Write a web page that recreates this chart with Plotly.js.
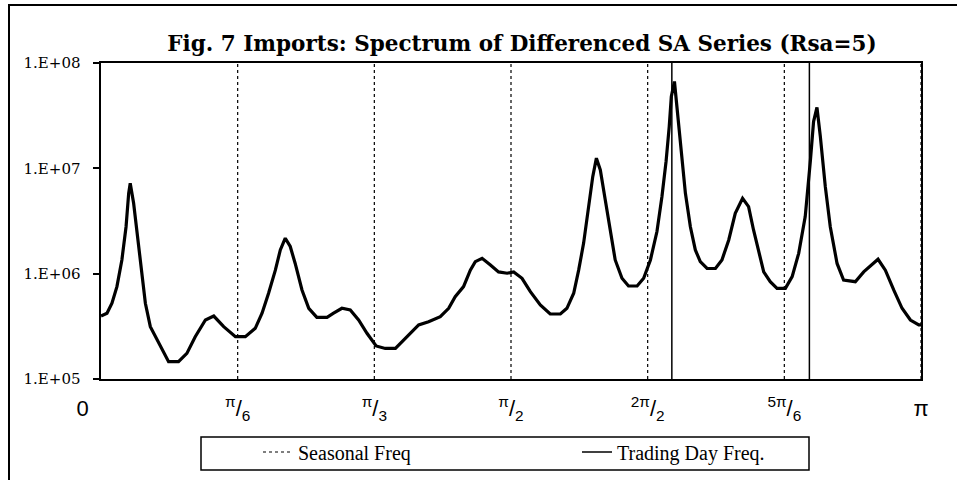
<!DOCTYPE html>
<html>
<head>
<meta charset="utf-8">
<script src="https://cdn.plot.ly/plotly-3.0.1.min.js"></script>
<style>
  html, body { margin: 0; padding: 0; background: #fff; }
  #wrap { position: relative; width: 957px; height: 480px; overflow: hidden; }
  #chart { position: absolute; left: 0; top: 0; width: 957px; height: 480px; }
  #frame { position: absolute; left: 8px; top: 4px; width: 970px; height: 490px;
           border-left: 2px solid #000; border-top: 2px solid #000; pointer-events: none; }
</style>
</head>
<body>
<div id="wrap">
  <div id="chart"></div>
  <div id="frame"></div>
</div>
<script>
// Frequency (radians) and spectrum values
const freq = [
  0.000, 0.023, 0.042, 0.061, 0.080, 0.096, 0.106, 0.112, 0.125, 0.138,
  0.151, 0.170, 0.189, 0.221, 0.259, 0.297, 0.329, 0.361, 0.400, 0.432,
  0.470, 0.515, 0.553, 0.591, 0.617, 0.642, 0.668, 0.687, 0.706, 0.725,
  0.744, 0.770, 0.796, 0.827, 0.866, 0.891, 0.923, 0.955, 0.987, 1.019,
  1.054, 1.089, 1.128, 1.166, 1.217, 1.255, 1.300, 1.332, 1.357, 1.389,
  1.415, 1.434, 1.460, 1.492, 1.523, 1.556, 1.581, 1.613, 1.645, 1.683,
  1.721, 1.760, 1.785, 1.811, 1.830, 1.849, 1.868, 1.884, 1.898, 1.913,
  1.932, 1.951, 1.970, 1.996, 2.021, 2.054, 2.079, 2.105, 2.130, 2.149,
  2.165, 2.177, 2.185, 2.197, 2.207, 2.220, 2.239, 2.258, 2.277, 2.296,
  2.322, 2.354, 2.379, 2.405, 2.430, 2.458, 2.481, 2.500, 2.520, 2.539,
  2.564, 2.590, 2.622, 2.648, 2.673, 2.698, 2.718, 2.730, 2.743, 2.756,
  2.775, 2.794, 2.820, 2.845, 2.890, 2.922, 2.977, 3.005, 3.037, 3.069,
  3.101, 3.133, 3.1416
];
const spectrum = [
  3.96e5, 4.21e5, 5.24e5, 7.53e5, 1.35e6, 2.79e6, 5.79e6, 7.21e6, 4.66e6, 2.42e6,
  1.17e6, 5.24e5, 3.14e5, 2.18e5, 1.46e5, 1.46e5, 1.75e5, 2.52e5, 3.63e5, 3.96e5,
  3.14e5, 2.52e5, 2.52e5, 3.03e5, 4.21e5, 6.52e5, 1.08e6, 1.68e6, 2.17e6, 1.81e6,
  1.25e6, 7.00e5, 4.69e5, 3.85e5, 3.85e5, 4.21e5, 4.69e5, 4.52e5, 3.63e5, 2.72e5,
  2.06e5, 1.95e5, 1.95e5, 2.43e5, 3.26e5, 3.50e5, 3.91e5, 4.69e5, 6.05e5, 7.53e5,
  1.08e6, 1.30e6, 1.40e6, 1.21e6, 1.04e6, 1.01e6, 1.04e6, 9.04e5, 6.76e5, 5.05e5,
  4.14e5, 4.14e5, 4.69e5, 6.52e5, 1.08e6, 1.95e6, 4.03e6, 8.34e6, 1.25e7, 9.66e6,
  5.01e6, 2.60e6, 1.35e6, 9.04e5, 7.64e5, 7.64e5, 9.04e5, 1.35e6, 2.51e6, 5.37e6,
  1.17e7, 2.49e7, 4.80e7, 6.67e7, 3.59e7, 1.61e7, 5.79e6, 2.79e6, 1.68e6, 1.30e6,
  1.12e6, 1.12e6, 1.35e6, 2.09e6, 3.74e6, 5.20e6, 4.33e6, 2.60e6, 1.56e6, 1.04e6,
  8.39e5, 7.26e5, 7.26e5, 9.38e5, 1.56e6, 3.48e6, 1.20e7, 2.78e7, 3.78e7, 2.00e7,
  6.70e6, 2.79e6, 1.25e6, 8.71e5, 8.39e5, 1.04e6, 1.37e6, 1.08e6, 7.00e5, 4.69e5,
  3.63e5, 3.26e5, 3.26e5
];
// Reference frequencies (radians)
const seasonalFreq = [Math.PI/6, Math.PI/3, Math.PI/2, 2*Math.PI/3, 5*Math.PI/6, Math.PI];
const tradingDayFreq = [2.187, 2.714];
// Axis ticks
const xTickVals = [0, Math.PI/6, Math.PI/3, Math.PI/2, 2*Math.PI/3, 5*Math.PI/6, Math.PI];
const xTickText = ['0\u00a0\u00a0\u00a0\u00a0\u00a0\u00a0', '<sup>π</sup>/<sub>6</sub>', '<sup>π</sup>/<sub>3</sub>', '<sup>π</sup>/<sub>2</sub>',
                   '<sup>2π</sup>/<sub>2</sub>', '<sup>5π</sup>/<sub>6</sub>', 'π'];
const yTickVals = [1e5, 1e6, 1e7, 1e8];
const yTickText = ['1.E+05\u00a0\u00a0', '1.E+06\u00a0\u00a0', '1.E+07\u00a0\u00a0', '1.E+08\u00a0\u00a0'];
const yMin = 1e5, yMax = 1e8;

function vlines(xs) {
  const x = [], y = [];
  xs.forEach(v => { x.push(v, v, null); y.push(yMin, yMax, null); });
  return {x, y};
}
const sl = vlines(seasonalFreq);
const td = vlines(tradingDayFreq);

const traces = [
  { x: sl.x, y: sl.y, mode: 'lines', name: 'Seasonal Freq',
    line: { color: '#000', width: 1.2, dash: 'dot' }, hoverinfo: 'skip' },
  { x: td.x, y: td.y, mode: 'lines', name: 'Trading Day Freq.',
    line: { color: '#000', width: 1.5 }, hoverinfo: 'skip' },
  { x: freq, y: spectrum, mode: 'lines', name: 'Spectrum', showlegend: false,
    line: { color: '#000', width: 3.2 } }
];

const L = 101, R = 36, T = 63, B = 101, W = 957, H = 480;
const pw = W - L - R, ph = H - T - B;
const px = v => (v - L) / pw;          // pixel -> paper x
const py = v => (H - B - v) / ph;      // pixel -> paper y

const layout = {
  width: W, height: H,
  margin: { l: L, r: R, t: T, b: B, autoexpand: false },
  paper_bgcolor: '#fff', plot_bgcolor: '#fff',
  title: {
    text: 'Fig. 7 Imports: Spectrum of Differenced SA Series (Rsa=5)',
    font: { family: 'DejaVu Serif', size: 21.5, color: '#000', weight: 700 },
    xref: 'container', x: 522 / W, xanchor: 'center',
    yref: 'container', y: 1 - 43 / H, yanchor: 'middle'
  },
  xaxis: {
    range: [0, Math.PI], showgrid: false, zeroline: false, automargin: false,
    showline: true, mirror: true, linecolor: '#000', linewidth: 2,
    ticks: '', tickvals: xTickVals, ticktext: xTickText,
    tickfont: { family: 'Liberation Sans Narrow, Liberation Sans', size: 22, color: '#000' },
    ticklabelstandoff: 9,
    fixedrange: true
  },
  yaxis: {
    type: 'log', range: [5, 8], showgrid: false, zeroline: false, automargin: false,
    showline: true, mirror: true, linecolor: '#000', linewidth: 2,
    ticks: 'outside', ticklen: 6, tickwidth: 2, tickcolor: '#000',
    tickvals: yTickVals, ticktext: yTickText,
    tickfont: { family: 'DejaVu Serif', size: 15, color: '#000' },
    fixedrange: true
  },
  showlegend: true,
  legend: {
    orientation: 'h', x: px(258), xanchor: 'left', y: py(452), yanchor: 'middle',
    bgcolor: 'rgba(0,0,0,0)', borderwidth: 0,
    font: { family: 'Liberation Serif', size: 20, color: '#000' },
    entrywidth: 274, entrywidthmode: 'pixels'
  },
  shapes: [
    { type: 'rect', xref: 'paper', yref: 'paper',
      x0: px(201), x1: px(809), y0: py(437), y1: py(470),
      line: { color: '#000', width: 1.5 }, fillcolor: 'rgba(0,0,0,0)' }
  ]
};

Plotly.newPlot('chart', traces, layout, { displayModeBar: false, staticPlot: true });
</script>
</body>
</html>
